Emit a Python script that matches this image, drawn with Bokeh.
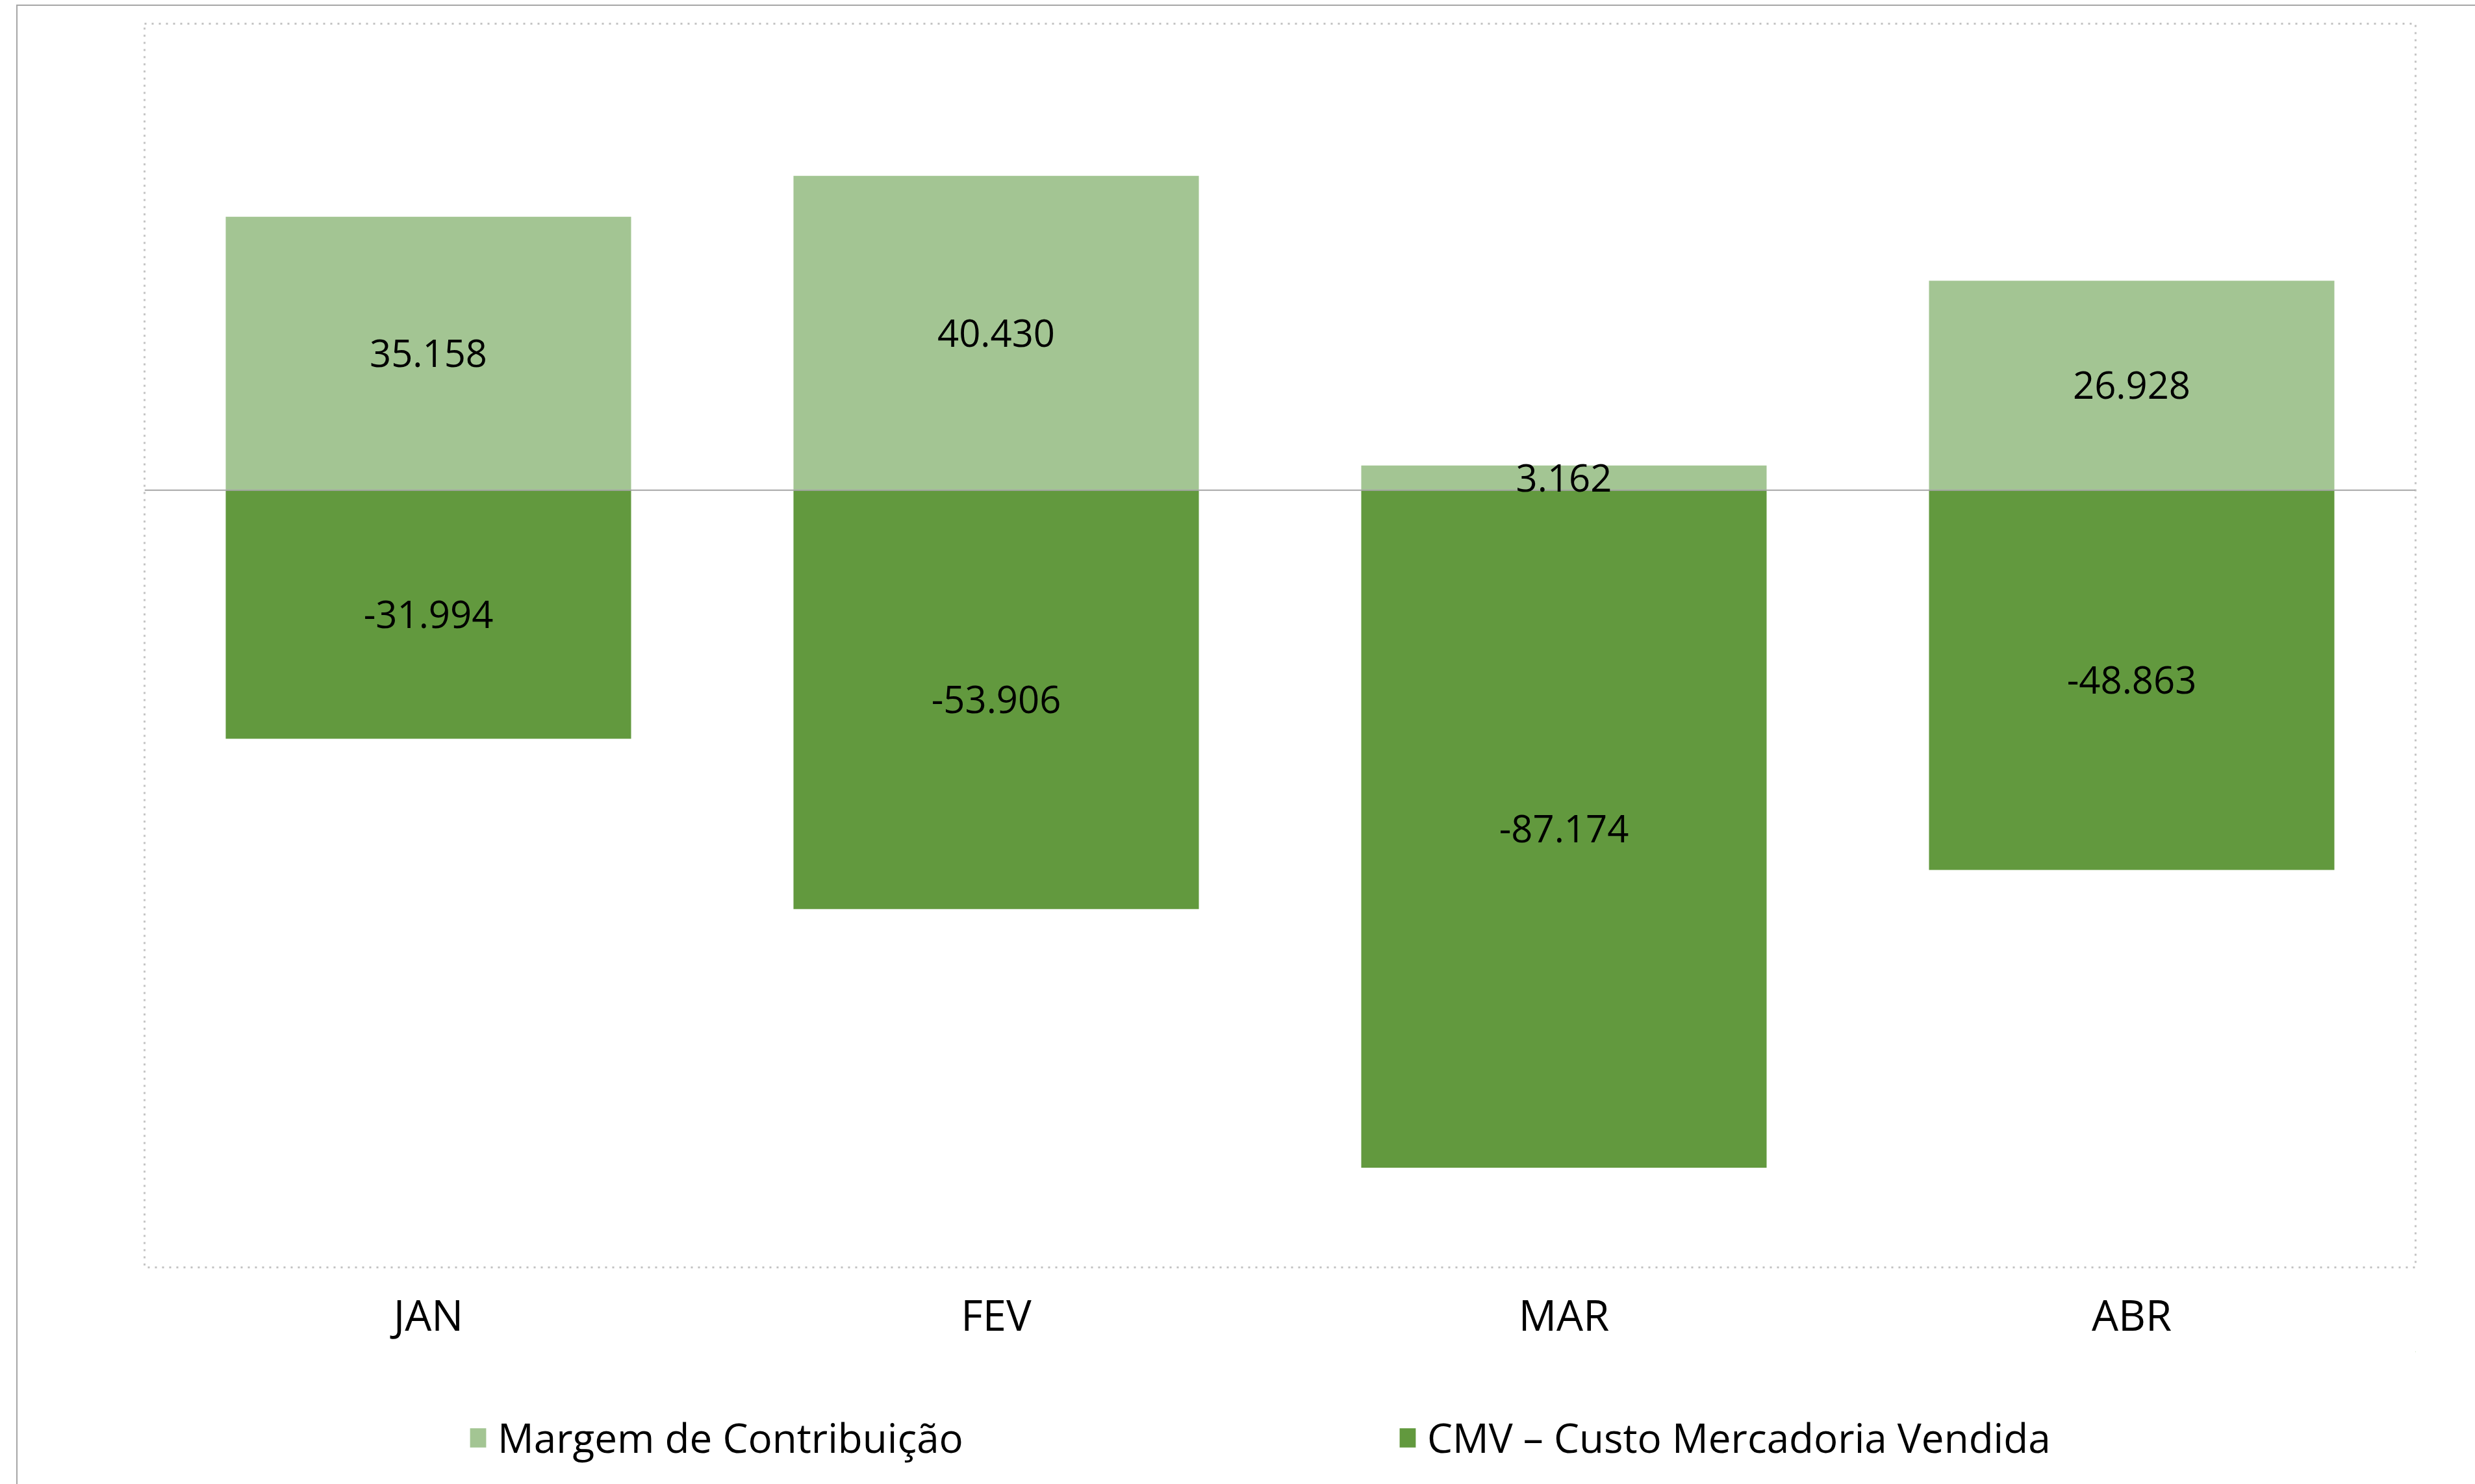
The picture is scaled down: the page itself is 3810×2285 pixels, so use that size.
from bokeh.plotting import figure
from bokeh.layouts import column
from bokeh.models import (ColumnDataSource, Range1d, FactorRange, Span, LabelSet,
                          Legend, LegendItem)
from bokeh.core.properties import value
from bokeh.embed import file_html
from bokeh.resources import INLINE

# ---- data ----
months = ["JAN", "FEV", "MAR", "ABR"]
margem = [35.158, 40.430, 3.162, 26.928]
cmv = [-31.994, -53.906, -87.174, -48.863]
margem_labels = ["35.158", "40.430", "3.162", "26.928"]
cmv_labels = ["-31.994", "-53.906", "-87.174", "-48.863"]
series_names = ["Margem de Contribuição", "CMV – Custo Mercadoria Vendida"]
colors = ["#A3C593", "#62993E"]

FONT = "Open Sans"

src = ColumnDataSource(dict(
    month=months,
    margem=margem,
    cmv=cmv,
    margem_mid=[v / 2 for v in margem],
    cmv_mid=[v / 2 for v in cmv],
    margem_lbl=margem_labels,
    cmv_lbl=cmv_labels,
))

W = 3783
H1, H2 = 2072, 204

p = figure(x_range=FactorRange(*months), y_range=Range1d(-100, 60),
           width=W, height=H1, output_backend="svg", toolbar_location=None,
           min_border_left=195, min_border_right=92,
           min_border_top=27, min_border_bottom=H1 - 1942)

r1 = p.vbar(x="month", top="margem", bottom=0, width=0.714, source=src,
            fill_color=colors[0], line_color=None)
r2 = p.vbar(x="month", top=0, bottom="cmv", width=0.714, source=src,
            fill_color=colors[1], line_color=None)

p.add_layout(Span(location=0, dimension="width", line_color="#A6A6A6", line_width=2))

for ycol, tcol in (("margem_mid", "margem_lbl"), ("cmv_mid", "cmv_lbl")):
    p.add_layout(LabelSet(x="month", y=ycol, text=tcol, source=src,
                          text_align="center", text_baseline="middle",
                          text_font=value(FONT), text_font_size="58px",
                          text_color="#000000"))

p.xgrid.visible = False
p.ygrid.visible = False
p.yaxis.visible = False
p.xaxis.axis_line_color = None
p.xaxis.major_tick_line_color = None
p.xaxis.minor_tick_line_color = None
p.xaxis.major_label_text_font = FONT
p.xaxis.major_label_text_font_size = "65px"
p.xaxis.major_label_text_color = "#000000"
p.xaxis.major_label_standoff = 22

p.outline_line_color = "#C4C4C4"
p.outline_line_width = 3
p.outline_line_dash = "3 8"

# legend strip below the chart (proxy renderers have zero height and lie
# outside this strip's ranges, so only their legend swatches are seen)
p2 = figure(width=W, height=H2, output_backend="svg", toolbar_location=None,
            min_border_left=0, min_border_right=0, min_border_top=0,
            min_border_bottom=0, x_range=Range1d(0, 1), y_range=Range1d(0, 1))
p2.axis.visible = False
p2.grid.visible = False
p2.outline_line_color = None
l1 = p2.vbar(x="margem", top="margem", bottom="margem", width=0.5, source=src,
             fill_color=colors[0], line_color=None)
l2 = p2.vbar(x="margem", top="margem", bottom="margem", width=0.5, source=src,
             fill_color=colors[1], line_color=None)

legend = Legend(items=[LegendItem(label=series_names[0], renderers=[l1], index=0),
                       LegendItem(label=series_names[1], renderers=[l2], index=0)],
                orientation="horizontal", location=(498, 30),
                glyph_width=31, glyph_height=37, label_standoff=15,
                spacing=668, padding=0, margin=0,
                label_text_font=FONT, label_text_font_size="62px",
                label_text_color="#000000",
                border_line_color=None, background_fill_alpha=0)
p2.add_layout(legend, "center")

layout = column(p, p2, spacing=0)
layout.margin = (7, 0, 0, 25)
layout.styles = {"border-top": "2px solid #A6A6A6", "border-left": "2px solid #A6A6A6"}

open("out.html", "w").write(file_html(layout, INLINE))
